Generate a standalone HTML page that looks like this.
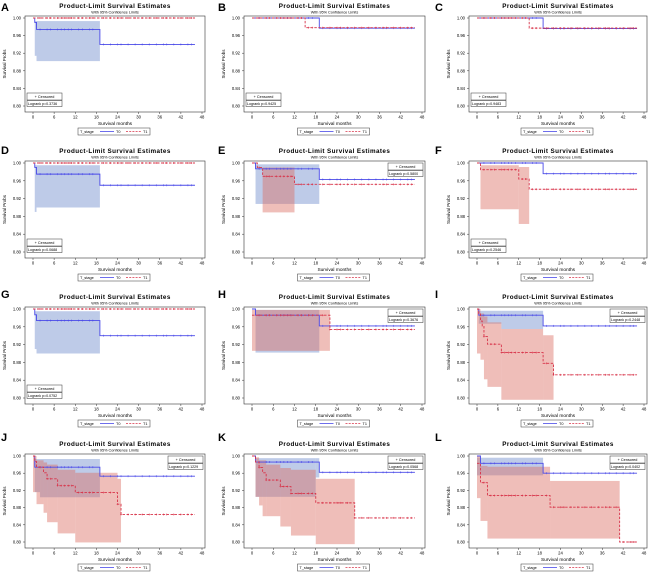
<!DOCTYPE html>
<html><head><meta charset="utf-8"><style>
html,body{margin:0;padding:0;background:#fff;}
svg{display:block;font-family:"Liberation Sans",sans-serif;}
</style></head><body>
<svg id="fig" width="650" height="573" viewBox="0 0 650 573"></svg>
<script>
const panelIds=["A","B","C","D","E","F","G","H","I","J","K","L"];
const pValues=["0.3736","0.9425","0.9483","0.0688","0.5800","0.2546","0.0752","0.3676","0.2448","0.1229","0.0568","0.0402"];
const legendCorner=["bl","bl","bl","bl","tr","bl","bl","tr","tr","tr","tr","tr"];
const xTicks=[0,6,12,18,24,30,36,42,48];
const yTicks=[1.00,0.96,0.92,0.88,0.84,0.80];
const censorMonths=[2,4,5,7,8,9,10,11,13,14,16,17,20,22,24,25,27,29,31,33,35,37,38,40,42,44,45];
const endMonth=46;
// blue (T0) step curves
const blueT=[[0,0.5,1,19],[0,19],[0,19],[0,0.5,1,19],[0,1,19],[0,19],[0,0.5,1,19],[0,1,19],[0,0.5,19],[0,0.5,19],[0,1,19],[0,1,19]];
const blueS=[[1,0.99,0.974,0.94],[1,0.977],[1,0.976],[1,0.99,0.975,0.95],[1,0.987,0.963],[1,0.976],[1,0.987,0.974,0.94],[1,0.986,0.962],[1,0.986,0.962],[1,0.974,0.953],[1,0.986,0.962],[1,0.983,0.96]];
// red (T1) step curves
const redT=[[0],[0,15],[0,15],[0],[0,1.5,3,12],[0,1,12,15],[0],[0,22],[0,0.5,1,1.5,2,3,7,19,22],[0,0.5,1,3,4,7,12,24,25],[0,1,2,3,4,8,11,18,29],[0,1,3,21,41]];
const redS=[[1],[1,0.978],[1,0.977],[1],[1,0.99,0.97,0.952],[1,0.985,0.964,0.941],[1],[0.986,0.954],[1,0.99,0.973,0.962,0.938,0.921,0.902,0.878,0.852],[1,0.987,0.974,0.961,0.947,0.931,0.915,0.888,0.864],[1,0.986,0.973,0.961,0.944,0.929,0.913,0.891,0.856],[0.983,0.938,0.908,0.881,0.80]];
// confidence bands
const blueBandT=[[0.5,1,19],[],[],[0.5,1,19],[1,19],[],[0.5,1,19],[1,19],[0.5,7,19],[0.5,2,19],[1,18,19],[0,19]];
const blueBandLo=[[0.914,0.902],[],[],[0.89,0.9],[0.908],[],[0.91,0.9],[0.902],[0.967,0.955],[0.916,0.904],[0.905,0.95],[0.955]];
const blueBandHi=[[0.993,0.993],[],[],[0.995,0.995],[0.997],[],[0.995,0.995],[0.998],[0.996,0.996],[0.993,0.993],[0.995,0.995],[0.996]];
const redBandT=[[],[],[],[],[3,12],[1,12,15],[],[0,22],[0,1,2,3,7,19,22],[0,1,3,4,7,12,24,25],[1,2,3,4,8,11,18,29],[0,1,3,21,41]];
const redBandLo=[[],[],[],[],[0.889],[0.896,0.863],[],[0.906],[0.9,0.886,0.842,0.825,0.796,0.796],[0.916,0.888,0.868,0.846,0.82,0.799,0.799],[0.905,0.885,0.86,0.86,0.836,0.815,0.795],[0.902,0.849,0.808,0.808]];
const redBandHi=[[],[],[],[],[0.99],[0.995,0.991],[],[0.998],[1,0.99,0.983,0.97,0.955,0.941],[1,0.99,0.985,0.98,0.968,0.961,0.947],[0.997,0.99,0.99,0.98,0.972,0.968,0.947],[1,0.977,0.975,0.942]];

const colL=[25,244,469], colR=[205,425,647];
const rowTop=[0,143,287,430], boxT=[16,161,307,454], boxB=[112,258,404,548];
const NS="http://www.w3.org/2000/svg";
const svg=document.getElementById("fig");
function mk(tag,attrs,parent,name,inter){const e=document.createElementNS(NS,tag);for(const k in attrs)e.setAttribute(k,attrs[k]);


(parent||svg).appendChild(e);return e;}
const BLUE="#4a4ae8", RED="#d8344a";
panelIds.forEach((id,i)=>{
  const c=i%3,r=Math.floor(i/3);
  const l=colL[c],rr=colR[c],t=boxT[r],b=boxB[r];
  const g=mk("g",{},svg,"panel-"+id.toLowerCase(),false);
  const X=m=>l+8+(m/48)*(rr-3-(l+8));
  const Y=v=>(t+2)+((1-v)/0.2)*((b-6)-(t+2));
  const lab=mk("text",{x:c*217+1,y:rowTop[r]+11,"font-size":11,"font-weight":"bold",fill:"#000"},g,"panel-label",false);lab.textContent=id;
  const cx=(l+rr)/2;
  const ti=mk("text",{x:cx,y:t-8,"font-size":6.3,"font-weight":"bold","text-anchor":"middle","letter-spacing":"0.4"},g,"chart-title",false);ti.textContent="Product-Limit Survival Estimates";
  const st=mk("text",{x:cx,y:t-2.5,"font-size":3.8,"text-anchor":"middle"},g,"chart-subtitle",false);st.textContent="With 95% Confidence Limits";
  // bands
  function band(T,Lo,Hi,fill,name){for(let k=0;k<Lo.length;k++){mk("rect",{x:X(T[k]),y:Y(Hi[k]),width:X(T[k+1])-X(T[k]),height:Y(Lo[k])-Y(Hi[k]),fill:fill},g,name,false);}}
  band(blueBandT[i],blueBandLo[i],blueBandHi[i],"rgba(110,140,205,0.45)","blue-confidence-band");
  band(redBandT[i],redBandLo[i],redBandHi[i],"rgba(220,110,100,0.45)","red-confidence-band");
  mk("rect",{x:l,y:t,width:rr-l,height:b-t,fill:"none",stroke:"#333","stroke-width":0.6},g,"plot-frame",false);
  function curve(T,S,col,dash,name){let d="M"+X(T[0])+","+Y(S[0]);for(let k=1;k<T.length;k++){d+="H"+X(T[k])+"V"+Y(S[k]);}d+="H"+X(endMonth);
    const p={d:d,fill:"none",stroke:col,"stroke-width":0.9};if(dash)p["stroke-dasharray"]="2.5,1.5";mk("path",p,g,name,false);
    censorMonths.forEach(m=>{let v=S[0];for(let k=0;k<T.length;k++)if(T[k]<=m)v=S[k];
      mk("path",{d:"M"+(X(m)-1)+","+Y(v)+"h2M"+X(m)+","+(Y(v)-1)+"v2",stroke:col,"stroke-width":0.5},g,name+"-censor-mark",false);});}
  curve(blueT[i],blueS[i],BLUE,false,"blue-survival-curve");
  curve(redT[i],redS[i],RED,true,"red-survival-curve");
  yTicks.forEach(v=>{mk("line",{x1:l-2,x2:l,y1:Y(v),y2:Y(v),stroke:"#333","stroke-width":0.5},g,"y-tick",false);
    const tx=mk("text",{x:l-4,y:Y(v)+1.5,"font-size":4.2,"text-anchor":"end"},g,"y-tick-label",false);tx.textContent=v.toFixed(2);});
  xTicks.forEach(m=>{mk("line",{x1:X(m),x2:X(m),y1:b,y2:b+2,stroke:"#333","stroke-width":0.5},g,"x-tick",false);
    const tx=mk("text",{x:X(m),y:b+6.5,"font-size":4.2,"text-anchor":"middle"},g,"x-tick-label",false);tx.textContent=m;});
  const yt=mk("text",{x:l-19,y:(t+b)/2,"font-size":4.5,"text-anchor":"middle",transform:"rotate(-90 "+(l-19)+" "+((t+b)/2)+")"},g,"y-axis-title",false);yt.textContent="Survival Probs";
  const xt=mk("text",{x:cx,y:b+13,"font-size":4.8,"text-anchor":"middle"},g,"x-axis-title",false);xt.textContent="Survival months";
  // censor legend
  let lx,ly;if(legendCorner[i]==="bl"){lx=l+2;ly=b-19;}else{lx=rr-37;ly=t+2;}
  const lg=mk("g",{},g,"censor-legend",false);
  mk("rect",{x:lx,y:ly,width:35,height:7,fill:"#fff",stroke:"#333","stroke-width":0.5},lg,"censored-key",false);
  const t1=mk("text",{x:lx+17.5,y:ly+5,"font-size":3.8,"text-anchor":"middle"},lg,"censored-label",false);t1.textContent="+ Censored";
  mk("rect",{x:lx,y:ly+7.5,width:35,height:6,fill:"#fff",stroke:"#333","stroke-width":0.5},lg,"logrank-box",false);
  const t2=mk("text",{x:lx+1,y:ly+12,"font-size":3.6},lg,"logrank-p-value",false);t2.textContent="Logrank p="+pValues[i];
  // group legend
  const gy=b+16,gx=cx-37;
  const gl=mk("g",{},g,"group-legend",false);
  mk("rect",{x:gx,y:gy,width:72,height:7,fill:"#fff",stroke:"#333","stroke-width":0.5},gl,"group-legend-box",false);
  const a=mk("text",{x:gx+2,y:gy+5,"font-size":3.8},gl,"group-legend-title",false);a.textContent="T_stage";
  mk("line",{x1:gx+22,x2:gx+36,y1:gy+3.5,y2:gy+3.5,stroke:BLUE,"stroke-width":0.8},gl,"legend-blue-line",false);
  const a2=mk("text",{x:gx+38,y:gy+5,"font-size":3.8},gl,"legend-t0",false);a2.textContent="T0";
  mk("line",{x1:gx+48,x2:gx+63,y1:gy+3.5,y2:gy+3.5,stroke:RED,"stroke-width":0.8,"stroke-dasharray":"2,1.2"},gl,"legend-red-line",false);
  const a3=mk("text",{x:gx+65,y:gy+5,"font-size":3.8},gl,"legend-t1",false);a3.textContent="T1";
});
</script>
</body></html>
